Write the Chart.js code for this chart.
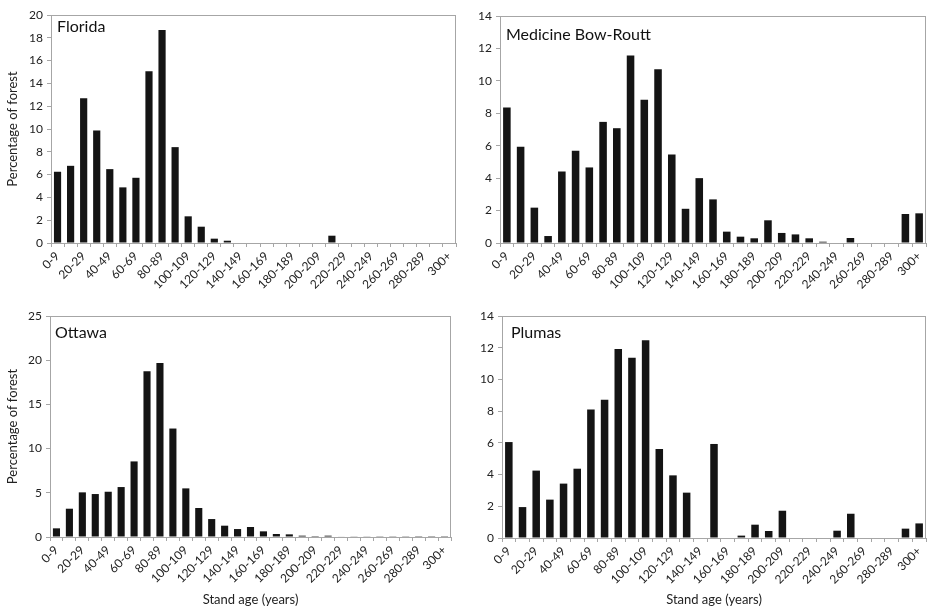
<!DOCTYPE html>
<html>
<head>
<meta charset="utf-8">
<script src="https://cdn.jsdelivr.net/npm/chart.js@4"></script>
<style>
  body { margin: 0; background: #fff; }
  #wrap { position: relative; width: 928px; height: 608px; }
  canvas { position: absolute; }
</style>
</head>
<body>
<div id="wrap">
  <canvas id="florida" width="464" height="300" style="left:0;top:0"></canvas>
  <canvas id="medbow" width="464" height="300" style="left:464px;top:0"></canvas>
  <canvas id="ottawa" width="464" height="308" style="left:0;top:300px"></canvas>
  <canvas id="plumas" width="464" height="308" style="left:464px;top:300px"></canvas>
</div>
<script>
// Stand age classes (10-year bins)
const ageClasses = ["0-9", "10-19", "20-29", "30-39", "40-49", "50-59", "60-69", "70-79",
  "80-89", "90-99", "100-109", "110-119", "120-129", "130-139", "140-149", "150-159",
  "160-169", "170-179", "180-189", "190-199", "200-209", "210-219", "220-229", "230-239",
  "240-249", "250-259", "260-269", "270-279", "280-289", "290-299", "300+"];

// Percentage of forest per age class
const florida = [6.25, 6.77, 12.7, 9.87, 6.48, 4.88, 5.72, 15.07, 18.69, 8.41, 2.34, 1.43, 0.38, 0.2,
  0, 0, 0, 0, 0, 0, 0, 0.64, 0, 0, 0, 0, 0, 0, 0, 0, 0];
const medicineBow = [8.36, 5.93, 2.18, 0.43, 4.41, 5.69, 4.66, 7.47, 7.08, 11.56, 8.83, 10.72, 5.46,
  2.11, 4.0, 2.69, 0.7, 0.39, 0.29, 1.4, 0.62, 0.53, 0.29, 0.08, 0, 0.31, 0, 0, 0, 1.79, 1.83];
const ottawa = [0.98, 3.2, 5.05, 4.86, 5.12, 5.65, 8.55, 18.75, 19.69, 12.27, 5.5, 3.28, 2.03, 1.28,
  0.9, 1.13, 0.64, 0.34, 0.3, 0.15, 0.1, 0.15, 0.05, 0.04, 0.04, 0.03, 0.03, 0.03, 0.02, 0.02, 0.02];
const plumas = [6.05, 1.95, 4.25, 2.42, 3.43, 4.37, 8.11, 8.72, 11.92, 11.37, 12.47, 5.61, 3.95, 2.86,
  0, 5.93, 0, 0.15, 0.84, 0.44, 1.72, 0, 0, 0, 0.46, 1.53, 0, 0, 0, 0.59, 0.92];

const FONT = "Lato, 'DejaVu Sans', sans-serif";
const AXIS_GREY = "#a6a6a6";

// draws the frame around the plot area and the panel name
const panelDecor = {
  id: "panelDecor",
  afterDraw(chart, args, opts) {
    const { ctx, chartArea } = chart;
    ctx.save();
    ctx.strokeStyle = AXIS_GREY;
    ctx.lineWidth = 1;
    ctx.strokeRect(chartArea.left + 0.5, chartArea.top + 0.5,
      chartArea.right - chartArea.left - 1, chartArea.bottom - chartArea.top);
    ctx.fillStyle = "#111";
    ctx.font = "16px " + FONT;
    ctx.textBaseline = "top";
    ctx.fillText(opts.name, chartArea.left + opts.dx, chartArea.top + opts.dy);
    ctx.restore();
  },
};

function makePanel(id, name, values, yMax, yStep, p) {
  const ctx = document.getElementById(id).getContext("2d");
  return new Chart(ctx, {
    type: "bar",
    data: {
      labels: ageClasses,
      datasets: [{
        data: values,
        backgroundColor: "#141414",
        borderWidth: 0,
        barPercentage: 0.55,
        categoryPercentage: 1,
      }],
    },
    options: {
      responsive: false,
      animation: false,
      events: [],
      layout: { padding: { top: p.top, right: p.right, left: 0, bottom: 0 } },
      plugins: {
        legend: { display: false },
        tooltip: { enabled: false },
        panelDecor: { name: name, dx: p.dx, dy: p.dy },
      },
      scales: {
        x: {
          offset: true,
          grid: { offset: true, drawOnChartArea: false, drawTicks: true, tickLength: 4, color: AXIS_GREY },
          border: { color: AXIS_GREY },
          ticks: {
            autoSkip: false,
            minRotation: 45,
            maxRotation: 45,
            padding: 2,
            color: "#222",
            font: { family: FONT, size: 12 },
            callback: function (value, index) {
              return index % 2 === 0 ? this.getLabelForValue(value) : "";
            },
          },
          title: {
            display: p.xTitle,
            text: "Stand age (years)",
            color: "#222",
            font: { family: FONT, size: 13 },
            padding: { top: 0, bottom: 0 },
          },
          afterFit(scale) {
            scale.height = p.xHeight;
            scale.paddingLeft = 0;
            scale.paddingRight = 0;
          },
        },
        y: {
          min: 0,
          max: yMax,
          grid: { drawOnChartArea: false, drawTicks: true, tickLength: 4, color: AXIS_GREY },
          border: { color: AXIS_GREY },
          ticks: {
            stepSize: yStep,
            padding: 4,
            color: "#222",
            font: { family: FONT, size: 12 },
          },
          title: {
            display: p.yTitle,
            text: "Percentage of forest",
            color: "#222",
            font: { family: FONT, size: 13 },
            padding: { top: 5, bottom: 0 },
          },
          afterFit(scale) {
            scale.width = p.yWidth;
            scale.paddingTop = 0;
            scale.paddingBottom = 0;
          },
        },
      },
    },
    plugins: [panelDecor],
  });
}

makePanel("florida", "Florida", florida, 20, 2,
  { top: 15, right: 8, yWidth: 51, xHeight: 57, xTitle: false, yTitle: true, dx: 6, dy: 4 });
makePanel("medbow", "Medicine Bow-Routt", medicineBow, 14, 2,
  { top: 16, right: 2, yWidth: 36, xHeight: 57, xTitle: false, yTitle: false, dx: 6, dy: 11 });
makePanel("ottawa", "Ottawa", ottawa, 25, 5,
  { top: 16, right: 13, yWidth: 50, xHeight: 71, xTitle: true, yTitle: true, dx: 5, dy: 9 });
makePanel("plumas", "Plumas", plumas, 14, 2,
  { top: 16, right: 2, yWidth: 38, xHeight: 70, xTitle: true, yTitle: false, dx: 9, dy: 9 });
</script>
</body>
</html>
